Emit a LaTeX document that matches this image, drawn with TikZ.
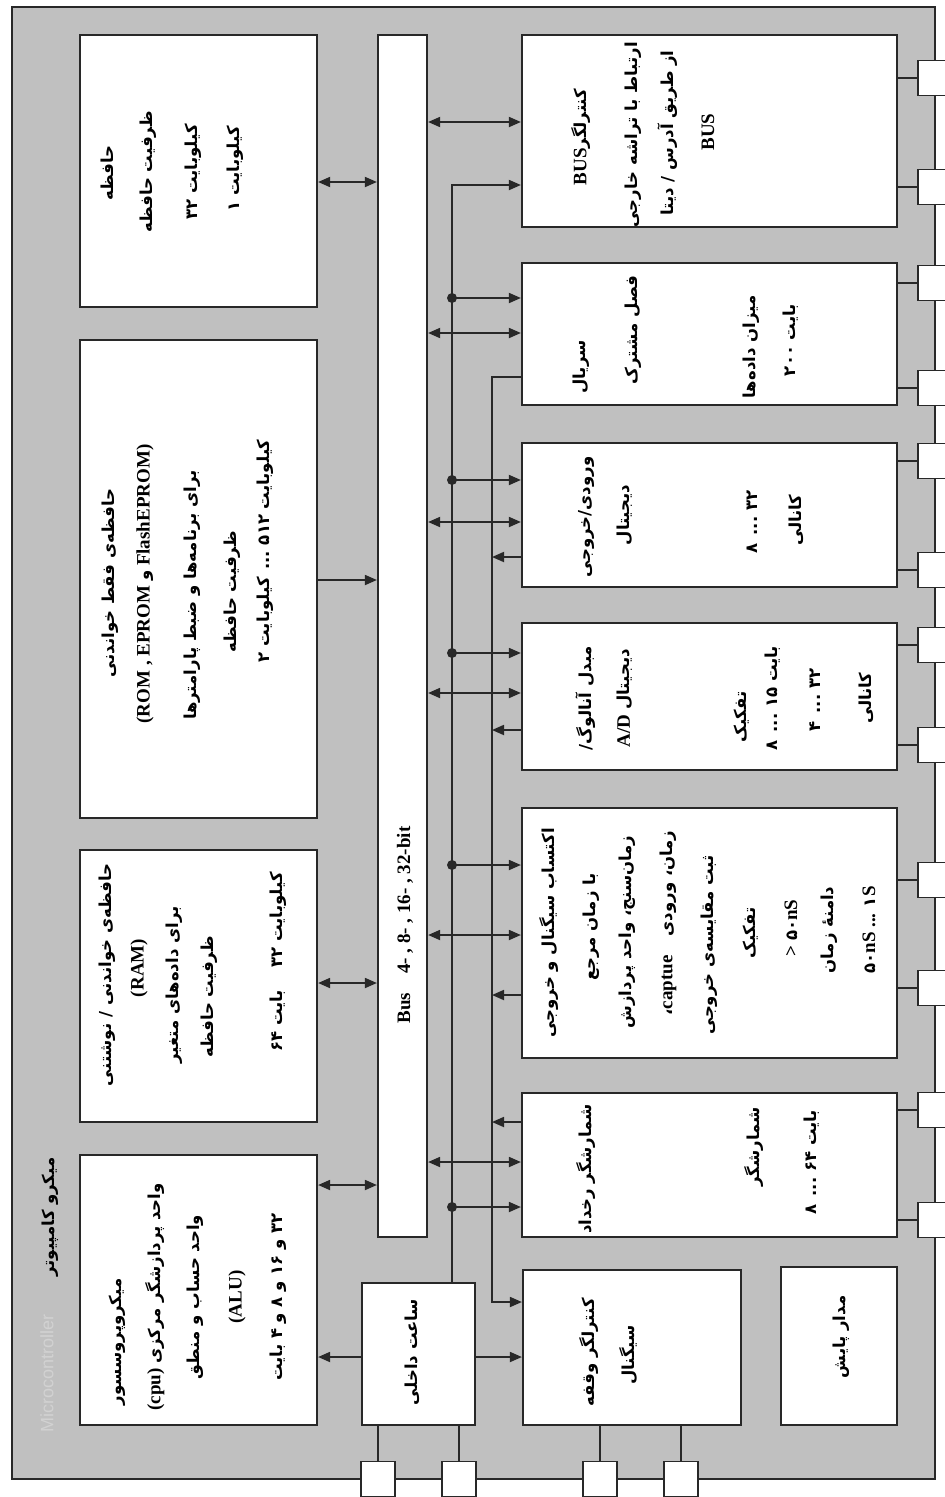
\documentclass[tikz,border=0pt]{standalone}
\usepackage{fontspec}
\setmainfont{Liberation Serif}
\newfontfamily\fa[Script=Arabic]{DejaVu Sans}
\newfontfamily\wmfont{Liberation Sans}
\TeXXeTstate=1
\usetikzlibrary{arrows.meta,fit}
\definecolor{band}{RGB}{192,192,192}
\definecolor{ink}{RGB}{40,40,40}
\definecolor{wmc}{RGB}{210,210,210}
\newcommand\fas{\fa\fontsize{16.5}{20}\selectfont}
\newcommand\rl[1]{{\fas\beginR #1\endR}}
\newcommand\bx[5]{\node[box, fit={(#2,#3) (#4,#5)}] (#1) {};}
\newcommand\tl[4]{\node[txt] (#1) at (#2,#3) {#4};}
\begin{document}
\begin{tikzpicture}[x=1pt,y=-1pt,
  box/.style={draw=ink, line width=2.2pt, fill=white, inner sep=0pt},
  txt/.style={rotate=90, inner sep=0pt, font=\fontsize{19}{23}\selectfont\bfseries, text=black},
  con/.style={draw=ink, line width=1.8pt},
  tip/.style={con, -{Triangle[length=12pt,width=10pt]}},
  dbl/.style={con, {Triangle[length=12pt,width=10pt]}-{Triangle[length=12pt,width=10pt]}},
  dotc/.style={circle, fill=ink, inner sep=0pt, minimum size=10pt},
  pin/.style={draw=ink, line width=1.8pt, fill=white, minimum width=34pt, minimum height=35pt, inner sep=0pt}]
\useasboundingbox (0,0) rectangle (945,1497);
\node[draw=ink, line width=2.4pt, fill=band, inner sep=0pt, fit={(12,7) (935,1479)}] (frame) {};
% boxes
\bx{mem}{80}{35}{317}{307}
\bx{rom}{80}{340}{317}{818}
\bx{ram}{80}{850}{317}{1122}
\bx{cpu}{80}{1155}{317}{1425}
\bx{bus}{378}{35}{427}{1237}
\bx{clk}{362}{1283}{475}{1425}
\bx{busc}{522}{35}{897}{227}
\bx{ser}{522}{263}{897}{405}
\bx{dio}{522}{443}{897}{587}
\bx{ad}{522}{623}{897}{770}
\bx{acq}{522}{808}{897}{1058}
\bx{evt}{522}{1093}{897}{1237}
\bx{sig}{523}{1270}{741}{1425}
\bx{rst}{781}{1267}{897}{1425}
\coordinate (A) at (452,0);
\coordinate (B) at (492,0);
% left column connectors
\draw[dbl] (mem.east |- 0,182) -- (bus.west |- 0,182);
\draw[tip] (rom.east |- 0,580) -- (bus.west |- 0,580);
\draw[dbl] (ram.east |- 0,983) -- (bus.west |- 0,983);
\draw[dbl] (cpu.east |- 0,1185) -- (bus.west |- 0,1185);
\draw[tip] (clk.west |- 0,1357) -- (cpu.east |- 0,1357);
\draw[tip] (clk.east |- 0,1357) -- (sig.west |- 0,1357);
% bus to right column
\foreach \y/\n in {122/busc,333/ser,522/dio,693/ad,935/acq,1162/evt}
  \draw[dbl] (bus.east |- 0,\y) -- (\n.west |- 0,\y);
% line A
\draw[tip] (A |- clk.north) -- (A |- 0,185) -- (busc.west |- 0,185);
\foreach \y/\n in {298/ser,480/dio,653/ad,865/acq,1207/evt}{
  \draw[tip] (A |- 0,\y) -- (\n.west |- 0,\y);
  \node[dotc] (dot\n) at (A |- 0,\y) {};}
% line B
\draw[tip] (ser.west |- 0,377) -- (B |- 0,377) -- (B |- 0,1302) -- (sig.west |- 0,1302);
\foreach \y/\n in {557/dio,730/ad,995/acq,1122/evt}
  \draw[tip] (\n.west |- 0,\y) -- (B |- 0,\y);
% right pins
\foreach \y/\n/\k in {78/busc/1,187/busc/2,283/ser/3,388/ser/4,461/dio/5,570/dio/6,645/ad/7,745/ad/8,880/acq/9,988/acq/10,1110/evt/11,1220/evt/12}{
  \node[pin] (pr\k) at (935,\y) {};
  \draw[con] (\n.east |- pr\k) -- (pr\k.west);}
% bottom pins
\foreach \x/\n/\k in {378/clk/1,459/clk/2,600/sig/3,681/sig/4}{
  \node[pin] (pb\k) at (\x,1479) {};
  \draw[con] (\n.south -| pb\k) -- (pb\k.north);}
% texts
\tl{ti}{50}{1217}{\rl{میکرو کامپیوتر}}
\node[rotate=90, inner sep=0pt, font=\wmfont\fontsize{18}{20}\selectfont, text=wmc] (wm) at (47,1373) {Microcontroller};
\tl{m1}{107}{173}{\rl{حافظه}}
\tl{m2}{148}{172}{\rl{ظرفیت حافظه}}
\tl{m3}{193}{172}{\rl{کیلوبایت ۳۲}}
\tl{m4}{235}{169}{\rl{کیلوبایت ۱}}
\tl{r1}{110}{583}{\rl{حافظه‌ی فقط خواندنی}}
\tl{r2}{145}{584}{(ROM , EPROM \rl{و} FlashEPROM)}
\tl{r3}{192}{595}{\rl{برای برنامه‌ها و ضبط پارامترها}}
\tl{r4}{232}{592}{\rl{ظرفیت حافظه}}
\tl{r5}{265}{551}{\rl{کیلوبایت ۵۱۲ ... کیلوبایت ۲}}
\tl{a1}{107}{975}{\rl{حافظه‌ی خواندنی / نوشتنی}}
\tl{a2}{139}{968}{(RAM)}
\tl{a3}{174}{985}{\rl{برای داده‌های متغیر}}
\tl{a4}{209}{997}{\rl{ظرفیت حافظه}}
\tl{a5}{278}{962}{\rl{کیلوبایت ۳۲ \quad بایت ۶۴}}
\tl{c1}{117}{1342}{\rl{میکروپروسسور}}
\tl{c2}{155}{1297}{(cpu) \rl{واحد پردازشگر مرکزی}}
\tl{c3}{195}{1297}{\rl{واحد حساب و منطق}}
\tl{c4}{237}{1297}{(ALU)}
\tl{c5}{278}{1297}{\rl{۳۲ و ۱۶ و ۸ و ۴ بایت}}
\tl{bl}{405}{925}{Bus\quad 4- , 8- , 16- , 32-bit}
\tl{b1}{581}{137}{BUS\rl{کنترلگر}}
\tl{b2}{633}{135}{\rl{ارتباط با تراشه خارجی}}
\tl{b3}{668}{133}{\rl{از طریق آدرس / دیتا}}
\tl{b4}{708}{132}{BUS}
\tl{s1}{581}{367}{\rl{سریال}}
\tl{s2}{633}{330}{\rl{فصل مشترک}}
\tl{s3}{751}{347}{\rl{میزان داده‌ها}}
\tl{s4}{791}{340}{\rl{بایت ۲۰۰}}
\tl{i1}{586}{517}{\rl{ورودی/خروجی}}
\tl{i2}{625}{515}{\rl{دیجیتال}}
\tl{i3}{752}{522}{\rl{۳۲ ... ۸}}
\tl{i4}{796}{520}{\rl{کانالی}}
\tl{d1}{586}{698}{\rl{مبدل آنالوگ/}}
\tl{d2}{625}{698}{A/D \rl{دیجیتال}}
\tl{d3}{742}{717}{\rl{تفکیک}}
\tl{d4}{773}{698}{\rl{بایت ۱۵ ... ۸}}
\tl{d5}{815}{700}{\rl{۳۲ ... ۴}}
\tl{d6}{866}{698}{\rl{کانالی}}
\tl{q1}{549}{933}{\rl{اکتساب سیگنال و خروجی}}
\tl{q2}{591}{927}{\rl{با زمان مرجع}}
\tl{q3}{627}{932}{\rl{زمان‌سنج، واحد پردازش}}
\tl{q4}{668}{923}{\rl{،}captue\quad\rl{زمان، ورودی}}
\tl{q5}{709}{945}{\rl{ثبت مقایسه‌ی خروجی}}
\tl{q6}{751}{933}{\rl{تفکیک}}
\tl{q7}{791}{928}{> {\fas ۵۰}nS}
\tl{q8}{829}{930}{\rl{دامنهٔ زمان}}
\tl{q9}{869}{930}{{\fas ۵۰}nS ... {\fas ۱}S}
\tl{e1}{586}{1169}{\rl{شمارشگر رخداد}}
\tl{e2}{754}{1147}{\rl{شمارشگر}}
\tl{e3}{812}{1162}{\rl{بایت ۶۴ ... ۸}}
\tl{g1}{589}{1352}{\rl{کنترلگر وقفه}}
\tl{g2}{628}{1355}{\rl{سیگنال}}
\tl{t1}{841}{1337}{\rl{مدار پایش}}
\tl{k1}{412}{1352}{\rl{ساعت داخلی}}
\end{tikzpicture}
\end{document}
